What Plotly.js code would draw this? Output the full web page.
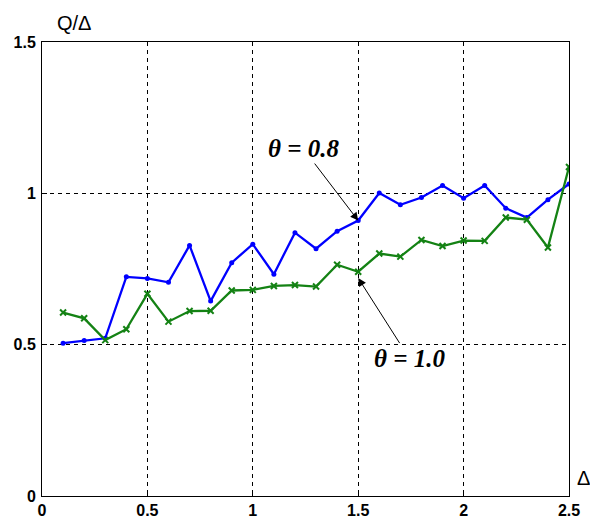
<!DOCTYPE html>
<html>
<head>
<meta charset="utf-8">
<script src="https://cdn.plot.ly/plotly-3.0.1.min.js"></script>
<style>html,body{margin:0;padding:0;background:#fff;}#chart{width:590px;height:520px;}</style>
</head>
<body>
<div id="chart"></div>
<script>
var deltaValues = [0.1,0.2,0.3,0.4,0.5,0.6,0.7,0.8,0.9,1.0,1.1,1.2,1.3,1.4,1.5,1.6,1.7,1.8,1.9,2.0,2.1,2.2,2.3,2.4,2.5];
var theta08 = [0.505,0.514,0.521,0.724,0.719,0.706,0.828,0.644,0.771,0.832,0.733,0.870,0.817,0.875,0.910,1.001,0.962,0.986,1.026,0.984,1.026,0.951,0.920,0.979,1.031];
var theta10 = [0.606,0.587,0.515,0.551,0.668,0.576,0.611,0.612,0.679,0.681,0.694,0.697,0.692,0.764,0.741,0.801,0.791,0.846,0.826,0.844,0.843,0.920,0.913,0.821,1.087];
var xTicks = [0,0.5,1,1.5,2,2.5];
var xTickText = ['0','0.5','1','1.5','2','2.5'];
var yTicks = [0,0.5,1,1.5];
var yTickText = ['0','0.5','1','1.5'];

var traces = [
  {x: deltaValues, y: theta08, mode: 'lines+markers', name: 'θ = 0.8',
   line: {color: '#0000ff', width: 2.3}, marker: {color: '#0000ff', size: 5, symbol: 'circle'}},
  {x: deltaValues, y: theta10, mode: 'lines+markers', name: 'θ = 1.0',
   line: {color: 'rgb(20,130,20)', width: 2.3}, marker: {color: 'rgb(20,130,20)', size: 6, symbol: 'x-thin-open', line: {color: 'rgb(20,130,20)', width: 2}}}
];

var tickFont = {family: 'Liberation Sans, Arial, sans-serif', size: 16, color: '#000', weight: 'bold'};
var axisCommon = {
  showline: true, linecolor: '#000', linewidth: 1, mirror: true,
  showgrid: true, gridcolor: '#000', gridwidth: 1, griddash: '4px,4px',
  zeroline: false, ticks: 'inside', ticklen: 5, tickcolor: '#000',
  tickfont: tickFont, tickmode: 'array'
};

var layout = {
  width: 590, height: 520,
  margin: {l: 41.7, r: 21, t: 42, b: 24.4},
  paper_bgcolor: '#fff', plot_bgcolor: '#fff',
  showlegend: false,
  xaxis: Object.assign({}, axisCommon, {range: [0, 2.5], tickvals: xTicks, ticktext: xTickText, ticklabelstandoff: 0}),
  yaxis: Object.assign({}, axisCommon, {range: [0, 1.5], tickvals: yTicks, ticktext: yTickText, ticklabelstandoff: 2}),
  annotations: [
    {text: 'Q/Δ', xref: 'paper', yref: 'paper', x: 0.061, y: 1.042, xanchor: 'center', yanchor: 'middle', showarrow: false,
     font: {family: 'Liberation Sans, Arial, sans-serif', size: 20, color: '#000'}},
    {text: 'Δ', xref: 'paper', yref: 'paper', x: 1.028, y: 0.039, xanchor: 'center', yanchor: 'middle', showarrow: false,
     font: {family: 'Liberation Sans, Arial, sans-serif', size: 20, color: '#000'}},
    {text: '<b><i>θ = 0.8</i></b>', x: 1.5, y: 0.91, xref: 'x', yref: 'y',
     showarrow: true, ax: -55, ay: -72, arrowhead: 2, arrowsize: 1.6, arrowwidth: 1, arrowcolor: '#000',
     font: {family: 'Liberation Serif, Times New Roman, serif', size: 25, color: '#000'}},
    {text: '<b><i>θ = 1.0</i></b>', x: 1.5, y: 0.72, xref: 'x', yref: 'y',
     showarrow: true, ax: 51, ay: 80, arrowhead: 2, arrowsize: 1.6, arrowwidth: 1, arrowcolor: '#000',
     font: {family: 'Liberation Serif, Times New Roman, serif', size: 25, color: '#000'}}
  ]
};

Plotly.newPlot('chart', traces, layout, {displayModeBar: false, staticPlot: true});
</script>
</body>
</html>
